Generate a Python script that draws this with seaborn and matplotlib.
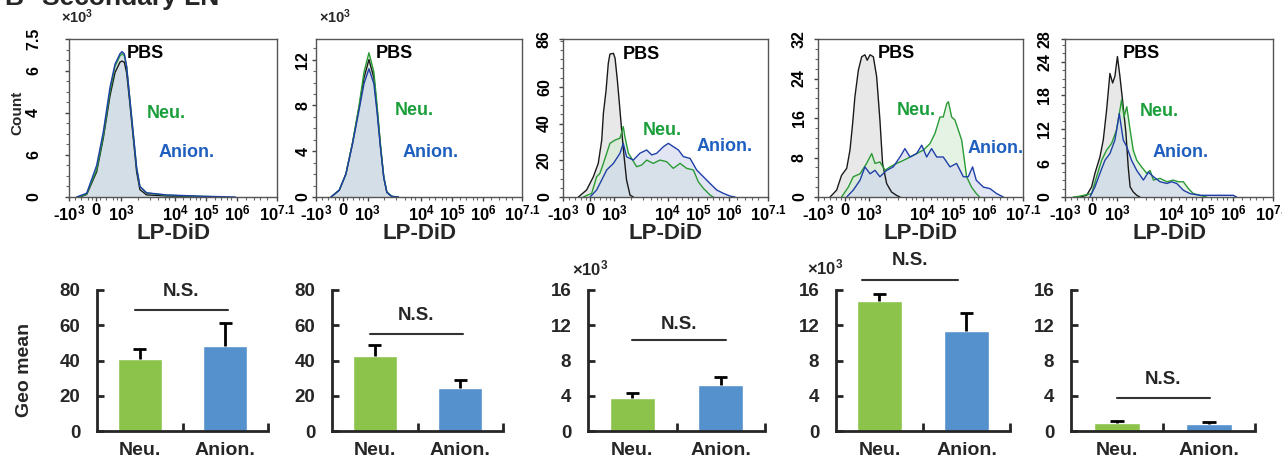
import numpy as np
import pandas as pd
import matplotlib.pyplot as plt
import seaborn as sns
from matplotlib.ticker import FixedLocator, AutoMinorLocator

sns.set_theme(style="ticks")
plt.rcParams['font.family'] = ['Liberation Sans', 'DejaVu Sans']
plt.rcParams['font.weight'] = 'bold'
plt.rcParams['axes.labelweight'] = 'bold'
plt.rcParams['mathtext.fontset'] = 'custom'
plt.rcParams['mathtext.rm'] = 'Liberation Sans:bold'
plt.rcParams['mathtext.bf'] = 'Liberation Sans:bold'
plt.rcParams['mathtext.it'] = 'Liberation Sans:bold'

# ---- histogram data (x in display units: 0 = -10^3 edge, 100 = 10^7.1 edge) ----
x_tick_pos = [0, 13, 25, 51, 66, 81, 100]
x_tick_labels = [r'-$10^{3}$', '0', r'$10^{3}$', r'$10^{4}$', r'$10^{5}$', r'$10^{6}$', r'$10^{7.1}$']

p1_pbs = [(5, 0), (8.5, 0.12), (13.3, 1.2), (16.5, 2.8), (19.7, 4.8), (22.1, 5.9), (24.5, 6.4),
          (25.5, 6.45), (26.6, 6.4), (27.7, 5.9), (29.3, 4.4), (30.9, 2.8), (32.5, 1.2),
          (34.1, 0.35), (37.3, 0.1), (46.8, 0.05), (60, 0.02), (70, 0)]
p1_neu = [(4.5, 0), (8.5, 0.14), (13.3, 1.3), (16.5, 2.9), (19.7, 5.0), (22.1, 6.2), (24.5, 6.7),
          (25.5, 6.8), (26.6, 6.7), (27.7, 6.2), (29.3, 4.6), (30.9, 3.0), (32.5, 1.4),
          (34.1, 0.5), (37.3, 0.19), (46.8, 0.08), (62.8, 0.03), (75, 0)]
p1_anion = [(3.7, 0), (8.5, 0.18), (13.3, 1.5), (16.5, 3.1), (19.7, 5.2), (22.1, 6.3), (24.5, 6.8),
            (25.5, 6.9), (26.6, 6.8), (27.7, 6.2), (29.3, 4.6), (30.9, 3.0), (32.5, 1.4),
            (34.1, 0.5), (37.3, 0.2), (46.8, 0.1), (62.8, 0.04), (80, 0)]

p2_pbs = [(7.3, 0), (11.3, 0.6), (14.5, 2.0), (17.7, 4.7), (20.9, 7.8), (23.3, 10.4), (25.7, 12.0),
          (28.1, 10.4), (29.7, 7.6), (31.3, 4.4), (32.9, 1.7), (34.4, 0.4), (36.8, 0.05), (40, 0)]
p2_neu = [(7.3, 0), (11.3, 0.6), (14.5, 2.0), (17.7, 4.7), (20.9, 8.0), (23.3, 10.9), (25.7, 12.6),
          (28.1, 10.9), (29.7, 7.9), (31.3, 4.6), (32.9, 1.8), (34.4, 0.45), (36.8, 0.06), (40, 0)]
p2_anion = [(7.3, 0), (11.3, 0.6), (14.5, 2.0), (17.7, 4.6), (20.9, 7.6), (23.3, 9.9), (25.7, 11.2),
            (28.1, 9.9), (29.7, 7.3), (31.3, 4.3), (32.9, 1.7), (34.4, 0.4), (36.8, 0.05), (40, 0)]

p3_pbs = [(7.5, 0), (11.5, 3.8), (14.8, 11), (17.2, 18.3), (18.9, 31), (19.7, 45.5), (21, 58),
          (22.1, 72.8), (22.9, 77.8), (24.6, 78.2), (25.4, 75.5), (26.5, 63.7), (27.5, 51),
          (28.6, 36.5), (29.8, 22), (31, 9.3), (32.7, 1), (34.3, 0)]
p3_neu = [(9.9, 0), (14, 2), (16.4, 11), (18, 12.9), (19.7, 18.3), (22.9, 29.2), (25.4, 31),
          (27.8, 32), (29.4, 38.3), (30.2, 32.8), (31.9, 23.8), (33.5, 21), (35.9, 16.5),
          (38.4, 17.4), (40.8, 20.1), (44, 18.3), (47.3, 20.1), (50.6, 19.2), (53.8, 15.6),
          (57.1, 18.3), (60.3, 15.6), (63.6, 14.7), (66, 8.3), (68.5, 4.7), (71.7, 1.1), (73.3, 0)]
p3_anion = [(13.2, 0), (16.4, 3.8), (18.9, 9.3), (21.3, 14.7), (24.6, 18.3), (27.8, 23.8),
            (29.4, 29.2), (31, 21.9), (34.3, 20.1), (37.5, 23.8), (40.8, 25.6), (43.3, 22.9),
            (45.7, 23.8), (49, 27.4), (51.4, 29.2), (53.8, 27.4), (56.3, 25.6), (58.7, 22),
            (62, 21), (65.2, 14.7), (68.5, 11), (71.7, 7.4), (75, 3.8), (78.2, 2), (81.5, 0.5), (83.9, 0)]

p4_pbs = [(5.9, 0), (9.1, 1.4), (11.5, 4.4), (14, 5.8), (15.6, 9.5), (16.9, 14.9), (18, 20.3),
          (19.7, 25.7), (21.3, 28.4), (22.9, 28.8), (24, 27.7), (25.4, 28.8), (27, 28.4),
          (28.6, 24.4), (30.2, 15.6), (31.5, 6.8), (33.5, 2.7), (35.9, 1), (38.4, 0.3), (40, 0)]
p4_neu = [(11.5, 0), (14.8, 2), (17.2, 4.1), (20.5, 4.7), (23.7, 6.8), (26.2, 8.8), (27.8, 6.8),
          (30.2, 7.1), (32.7, 5.4), (35.1, 6.1), (38.4, 6.8), (41.6, 7.4), (44.9, 8.1), (48.1, 8.8),
          (51.4, 9.5), (54.6, 10.8), (57.1, 12.9), (59.5, 16.2), (61.1, 16.2), (62.8, 18.9),
          (63.6, 19.3), (65.2, 16.2), (66.8, 15.6), (68.5, 13.5), (70.1, 11.5), (71.2, 8.1),
          (72.5, 4.1), (74.9, 2), (77.2, 0.7), (78.9, 0)]
p4_anion = [(14, 0), (17.2, 1.4), (20.5, 3.4), (22.9, 6.1), (25.4, 4.7), (27.8, 5.4), (30.2, 4.1),
            (33.5, 5.4), (36.7, 6.1), (40, 8.1), (42.4, 9.8), (44.9, 8.1), (48.1, 8.8), (50.6, 10.5),
            (53, 8.1), (55.4, 9.8), (57.9, 8.1), (61.1, 8.1), (64.4, 6.1), (67.6, 6.8), (70.9, 4.1),
            (73.3, 4.1), (75.4, 6.1), (77.2, 3.4), (80.7, 2), (83.9, 1.7), (87.1, 0.7), (90.4, 0)]

p5_pbs = [(7.2, 0), (10.4, 0.3), (12.8, 1.8), (14.4, 4.2), (16.8, 7.1), (18.4, 10.1), (20, 15.4),
          (21.6, 21.9), (22.9, 20.2), (24, 21.4), (25.2, 24.9), (26.4, 21.4), (28, 16), (29.3, 11.3),
          (30.4, 5.3), (31.3, 1.8), (32.8, 0.9), (34.5, 0.3), (36, 0)]
p5_neu = [(4, 0), (6.4, 0.1), (12.8, 0.6), (15.2, 3.6), (17.6, 6.5), (20, 8.3), (22.4, 9.5),
          (24.8, 11.9), (26.4, 15.4), (27.2, 17.2), (28.4, 14.2), (29.7, 16), (31.3, 11.9),
          (32.8, 8.3), (34.5, 6.5), (36.9, 5.3), (39.3, 4.2), (40.9, 4.7), (42.5, 3), (45.7, 3.3),
          (49, 2.7), (52, 3), (54.5, 2.7), (56.9, 2.7), (59.3, 1.5), (61.7, 0.6), (64.9, 0.3), (68, 0)]
p5_anion = [(12, 0), (14.4, 1.8), (16.8, 4.2), (19.2, 6.5), (21.6, 7.7), (24, 10.1), (26.1, 14.8),
            (28, 10.1), (29.7, 8.9), (32, 6.5), (34.5, 4.7), (37.7, 3), (40.1, 4.4), (42.5, 3.6),
            (45.7, 2.7), (49, 2.4), (51.3, 2.7), (53.7, 2.4), (56.9, 1.2), (60.1, 0.6), (64.9, 0.3),
            (74.5, 0.3), (80.9, 0.3), (82.5, 0)]

hist_yticks = [[0, 2, 4, 6, 7.5], [0, 4, 8, 12], [0, 20, 40, 60, 86], [0, 8, 16, 24, 32],
               [0, 6, 12, 18, 24, 28]]
hist_ylabels = [['0', '6', '4', '6', '7.5'], ['0', '4', '8', '12'], ['0', '20', '40', '60', '86'],
                ['0', '8', '16', '24', '32'], ['0', '6', '12', '18', '24', '28']]
hist_ymax = [7.5, 13.8, 86, 32, 28]

# ---- bar data ----
groups = ['Neu.', 'Anion.']
neu_mean = [40.6, 42.8, 3.7, 14.8, 0.87]
neu_err = [6.2, 6.2, 0.57, 0.8, 0.26]
anion_mean = [48.0, 24.2, 5.2, 11.4, 0.80]
anion_err = [13.4, 4.5, 0.9, 2.0, 0.26]
bar_ymax = [80, 80, 16, 16, 16]
bar_yticks = [[0, 20, 40, 60, 80]] * 2 + [[0, 4, 8, 12, 16]] * 3
ns_line_y = [68.7, 55.2, 10.3, 17.1, 3.7]
ns_line_x = [(-0.06, 1.03), (-0.06, 1.03), (0.0, 1.06), (-0.2, 0.9), (0.0, 1.01)]
ns_text_y = [79, 65.4, 12.1, 19.3, 5.8]

c_pbs, c_neu, c_anion = '#1a1a1a', '#2a9a35', '#1f3fa8'
f_pbs, f_neu, f_anion = '#d9d9d9', '#d4ecd4', '#d0d6ee'
t_neu, t_anion = '#1a9e3a', '#1f5fbf'
bar_green, bar_blue = '#8cc34b', '#5591cd'

W, H = 1282, 458
fig = plt.figure(figsize=(W / 100, H / 100), dpi=100)


def rect(l, r, t, b):
    return [l / W, 1 - b / H, (r - l) / W, (b - t) / H]


hist_x = [(69, 277), (316, 522), (563, 768), (818, 1023), (1065, 1273)]
hist_curves = [(p1_pbs, p1_neu, p1_anion), (p2_pbs, p2_neu, p2_anion), (p3_pbs, p3_neu, p3_anion),
               (p4_pbs, p4_neu, p4_anion), (p5_pbs, p5_neu, p5_anion)]
ypads = [17, 1, 5, 5, 6]
text_pos = [[(0.28, 0.91), (0.375, 0.53), (0.43, 0.28)],
            [(0.29, 0.91), (0.38, 0.55), (0.42, 0.28)],
            [(0.29, 0.90), (0.39, 0.42), (0.65, 0.32)],
            [(0.29, 0.91), (0.385, 0.55), (0.73, 0.31)],
            [(0.28, 0.91), (0.36, 0.54), (0.42, 0.28)]]
minor_x = [3, 6, 9, 11, 15, 18, 21, 23, 33, 39, 43, 46, 48, 55, 58, 61, 63, 70, 73, 76, 78, 85, 89, 92, 95]

for i, (l, r) in enumerate(hist_x):
    ax = fig.add_axes(rect(l, r, 39, 197))
    fills = [f_pbs, f_neu, f_anion]
    lines = [c_pbs, c_neu, c_anion]
    for pts, fc in zip(hist_curves[i], fills):
        df = pd.DataFrame(pts, columns=['x', 'y'])
        ax.fill_between(df['x'], df['y'], color=fc, alpha=0.6, lw=0)
    for pts, lc in zip(hist_curves[i], lines):
        df = pd.DataFrame(pts, columns=['x', 'y'])
        sns.lineplot(data=df, x='x', y='y', ax=ax, color=lc, lw=1.0, estimator=None, sort=False)
    ax.set_xlim(0, 100)
    ax.set_ylim(0, hist_ymax[i])
    ax.set_xticks(x_tick_pos)
    ax.set_xticklabels(x_tick_labels, fontsize=12, fontweight='bold')
    ax.xaxis.set_minor_locator(FixedLocator(minor_x))
    ax.set_yticks(hist_yticks[i])
    ax.set_yticklabels(hist_ylabels[i], fontsize=11.5, fontweight='bold', rotation=90, va='center')
    ax.yaxis.set_minor_locator(AutoMinorLocator(4))
    ax.tick_params(axis='x', length=3, width=1, pad=1.5, colors='#444', labelcolor='black')
    ax.tick_params(axis='y', length=3, width=1, pad=ypads[i], colors='#444', labelcolor='black')
    ax.tick_params(which='minor', length=2, width=0.8, colors='#666')
    for sp in ax.spines.values():
        sp.set_color('#555')
        sp.set_linewidth(1.0)
    ax.set_xlabel('LP-DiD', fontsize=16, fontweight='bold', labelpad=0)
    ax.set_ylabel('')
    (px, py), (nx, ny), (ax_, ay) = text_pos[i]
    ax.text(px, py, 'PBS', transform=ax.transAxes, fontsize=13, fontweight='bold', color='black', va='center')
    ax.text(nx, ny, 'Neu.', transform=ax.transAxes, fontsize=13, fontweight='bold', color=t_neu, va='center')
    ax.text(ax_, ay, 'Anion.', transform=ax.transAxes, fontsize=13, fontweight='bold', color=t_anion, va='center')

fig.text(17 / W, 1 - 113 / H, 'Count', rotation=90, fontsize=11, fontweight='bold', ha='center', va='center')
fig.text(77 / W, 1 - 17 / H, r'$\times 10^{3}$', fontsize=10.5, ha='center', va='center')
fig.text(335 / W, 1 - 17 / H, r'$\times 10^{3}$', fontsize=10.5, ha='center', va='center')
fig.text(4 / W, 1 - 5 / H, 'B', fontsize=19, fontweight='bold', va='baseline')
fig.text(42 / W, 1 - 5 / H, 'Secondary LN', fontsize=19, fontweight='bold', va='baseline')

bar_x = [(97, 268), (332, 503), (588, 765), (836, 1010), (1071, 1255)]
for i, (l, r) in enumerate(bar_x):
    ax = fig.add_axes(rect(l, r, 290, 431))
    means = [neu_mean[i], anion_mean[i]]
    errs = [neu_err[i], anion_err[i]]
    df = pd.DataFrame({'group': groups, 'value': means})
    sns.barplot(data=df, x='group', y='value', hue='group', palette=[bar_green, bar_blue],
                width=0.51, legend=False, ax=ax, saturation=1)
    tops = [m + e for m, e in zip(means, errs)]
    ax.vlines([0, 1], means, tops, color='black', lw=2)
    ax.hlines(tops, [-0.075, 0.925], [0.075, 1.075], color='black', lw=2)
    ax.set_xlim(-0.5, 1.5)
    ax.set_ylim(0, bar_ymax[i])
    ax.set_yticks(bar_yticks[i])
    ax.set_yticklabels([str(v) for v in bar_yticks[i]], fontsize=13.5, fontweight='bold')
    ax.set_xticklabels(groups, fontsize=14, fontweight='bold')
    ax.xaxis.set_minor_locator(FixedLocator([0.5, 1.5]))
    ax.tick_params(axis='x', which='major', length=0, pad=8)
    ax.tick_params(axis='x', which='minor', direction='in', length=6, width=2)
    ax.tick_params(axis='y', direction='in', length=5, width=2, pad=12)
    sns.despine(ax=ax)
    ax.spines['left'].set_linewidth(2)
    ax.spines['bottom'].set_linewidth(2)
    ax.set_xlabel('')
    ax.set_ylabel('')
    x0, x1 = ns_line_x[i]
    ax.plot([x0, x1], [ns_line_y[i], ns_line_y[i]], color='#333', lw=1.5, clip_on=False)
    ax.text((x0 + x1) / 2, ns_text_y[i], 'N.S.', fontsize=13.5, fontweight='bold', ha='center',
            va='center', clip_on=False)

fig.text(25 / W, 1 - 370 / H, 'Geo mean', rotation=90, fontsize=14, fontweight='bold', ha='center', va='center')
fig.text(590 / W, 1 - 268 / H, r'$\times 10^{3}$', fontsize=12, ha='center', va='center')
fig.text(825 / W, 1 - 267 / H, r'$\times 10^{3}$', fontsize=12, ha='center', va='center')

fig.savefig('out.png', dpi=100)
